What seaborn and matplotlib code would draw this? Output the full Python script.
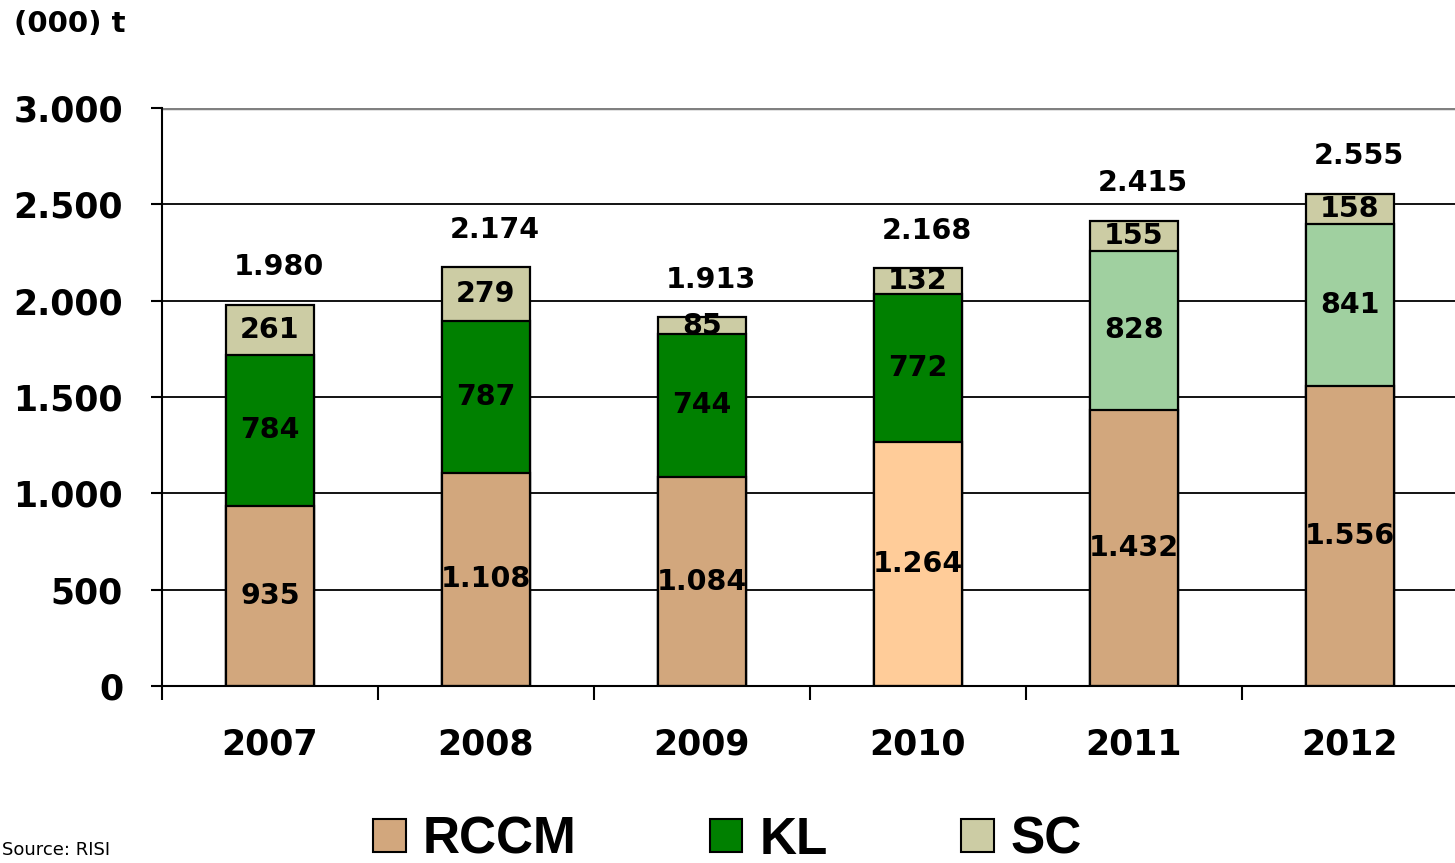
import numpy as np
import pandas as pd
import seaborn as sns
import matplotlib.pyplot as plt
from matplotlib.patches import Patch

years = ["2007", "2008", "2009", "2010", "2011", "2012"]
rccm = [935, 1108, 1084, 1264, 1432, 1556]
kl = [784, 787, 744, 772, 828, 841]
sc = [261, 279, 85, 132, 155, 158]

series_names = ["RCCM", "KL", "SC"]
yticks = [0, 500, 1000, 1500, 2000, 2500, 3000]

TAN = "#D2A77D"
PEACH = "#FFCC99"
GREEN = "#008000"
LIGHT_GREEN = "#A0D0A0"
KHAKI = "#CCCCA4"

rccm_colors = [TAN, TAN, TAN, PEACH, TAN, TAN]
kl_colors = [GREEN, GREEN, GREEN, GREEN, LIGHT_GREEN, LIGHT_GREEN]
sc_colors = [KHAKI] * 6


def fmt(v):
    # thousands separator as a dot
    return f"{v:,}".replace(",", ".")


sns.set_theme(style="white")
plt.rcParams["font.family"] = ["DejaVu Sans"]
plt.rcParams.update({"text.color": "black", "axes.labelcolor": "black",
                     "xtick.color": "black", "ytick.color": "black"})

df = pd.DataFrame({"year": years, "rccm": rccm, "kl": kl, "sc": sc})
df["rccm_kl"] = df["rccm"] + df["kl"]
df["total"] = df["rccm_kl"] + df["sc"]

fig = plt.figure(figsize=(14.55, 8.63), dpi=100)
ax = fig.add_axes([162 / 1455, 1 - 686 / 863, (1458 - 162) / 1455, (686 - 108) / 863])

bar_kw = dict(x="year", hue="year", width=0.41, legend=False, ax=ax,
              edgecolor="black", linewidth=1.6, saturation=1)
sns.barplot(data=df, y="total", palette=sc_colors, **bar_kw)
sns.barplot(data=df, y="rccm_kl", palette=kl_colors, **bar_kw)
sns.barplot(data=df, y="rccm", palette=rccm_colors, **bar_kw)

label_kw = dict(ha="center", va="center", fontsize=20.5, fontweight="bold", color="black")
for i, row in df.iterrows():
    ax.text(i, row["rccm"] / 2, fmt(row["rccm"]), **label_kw)
    ax.text(i, row["rccm"] + row["kl"] / 2, fmt(row["kl"]), **label_kw)
    ax.text(i, row["rccm_kl"] + row["sc"] / 2, fmt(row["sc"]), **label_kw)
    ax.text(i + 0.04, row["total"] + 195, fmt(row["total"]), **label_kw)

ax.set_xlim(-0.5, 5.5)
ax.set_ylim(0, 3000)
ax.set_xlabel("")
ax.set_ylabel("")

ax.set_yticks(yticks)
ax.set_yticklabels([fmt(v) for v in yticks], fontsize=25, fontweight="bold")
ax.tick_params(axis="y", length=8, width=1.5, color="black", pad=20, left=True)

ax.set_xticks(range(len(years)))
ax.set_xticklabels(years, fontsize=25, fontweight="bold")
ax.set_xticks(np.arange(-0.5, len(years), 1), minor=True)
ax.tick_params(axis="x", which="major", length=0, pad=30)
ax.tick_params(axis="x", which="minor", length=10, width=1.5, color="black", bottom=True)

ax.set_axisbelow(True)
ax.yaxis.grid(True, color="black", linewidth=1.3)
ax.get_ygridlines()[-1].set_color("#808080")
ax.get_ygridlines()[-1].set_linewidth(2.5)
for side in ["top", "right"]:
    ax.spines[side].set_visible(False)
for side in ["left", "bottom"]:
    ax.spines[side].set_color("black")
    ax.spines[side].set_linewidth(1.5)

fig.text(14 / 1455, 1 - 24 / 863, "(000) t", fontsize=21, fontweight="bold", va="center")
fig.text(2 / 1455, 1 - 850 / 863, "Source: RISI", fontsize=13, va="center")

handles = [Patch(facecolor=c, edgecolor="black", linewidth=1.5) for c in [TAN, GREEN, KHAKI]]
fig.legend(handles, series_names, loc="center", bbox_to_anchor=(0.5, 23 / 863), ncol=3,
           frameon=False, prop={"family": "Liberation Sans", "weight": "bold", "size": 37},
           handlelength=0.63, handleheight=0.63, handletextpad=0.33, columnspacing=2.6,
           borderpad=0, borderaxespad=0)

fig.savefig("out.png", dpi=100)
